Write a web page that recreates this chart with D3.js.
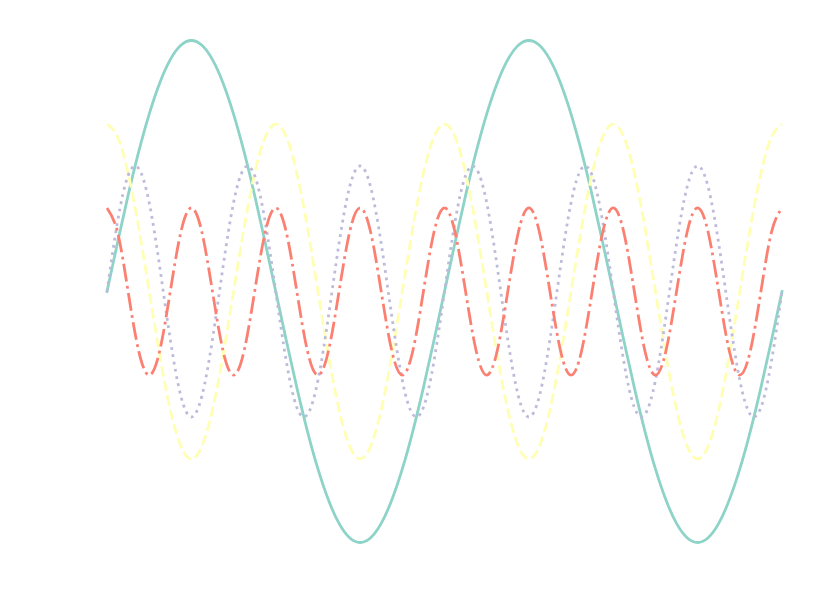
<!DOCTYPE html>
<html>
<head>
<meta charset="utf-8">
<script src="https://cdn.jsdelivr.net/npm/d3@7"></script>
<style>
html,body{margin:0;padding:0;background:#fff;}
svg{display:block;}
</style>
</head>
<body>
<svg id="chart" width="831" height="611"></svg>
<script>
// x positions in units of pi/16, from 0 to 4*pi
const steps = d3.range(0, 65);

const teal = [0,0.195,0.383,0.556,0.707,0.831,0.924,0.981,1,0.981,0.924,0.831,0.707,0.556,0.383,0.195,
  0,-0.195,-0.383,-0.556,-0.707,-0.831,-0.924,-0.981,-1,-0.981,-0.924,-0.831,-0.707,-0.556,-0.383,-0.195,
  0,0.195,0.383,0.556,0.707,0.831,0.924,0.981,1,0.981,0.924,0.831,0.707,0.556,0.383,0.195,
  0,-0.195,-0.383,-0.556,-0.707,-0.831,-0.924,-0.981,-1,-0.981,-0.924,-0.831,-0.707,-0.556,-0.383,-0.195,0];

const yellow = [0.667,0.616,0.471,0.255,0,-0.255,-0.471,-0.616,-0.667,-0.616,-0.471,-0.255,0,0.255,0.471,0.616,
  0.667,0.616,0.471,0.255,0,-0.255,-0.471,-0.616,-0.667,-0.616,-0.471,-0.255,0,0.255,0.471,0.616,
  0.667,0.616,0.471,0.255,0,-0.255,-0.471,-0.616,-0.667,-0.616,-0.471,-0.255,0,0.255,0.471,0.616,
  0.667,0.616,0.471,0.255,0,-0.255,-0.471,-0.616,-0.667,-0.616,-0.471,-0.255,0,0.255,0.471,0.616,0.667];

const purple = [0,0.278,0.462,0.490,0.354,0.098,-0.191,-0.416,-0.5,-0.416,-0.191,0.098,0.354,0.490,0.462,0.278,
  0,-0.278,-0.462,-0.490,-0.354,-0.098,0.191,0.416,0.5,0.416,0.191,-0.098,-0.354,-0.490,-0.462,-0.278,
  0,0.278,0.462,0.490,0.354,0.098,-0.191,-0.416,-0.5,-0.416,-0.191,0.098,0.354,0.490,0.462,0.278,
  0,-0.278,-0.462,-0.490,-0.354,-0.098,0.191,0.416,0.5,0.416,0.191,-0.098,-0.354,-0.490,-0.462,-0.278,0];

const red = [0.333,0.236,0,-0.236,-0.333,-0.236,0,0.236,
  0.333,0.236,0,-0.236,-0.333,-0.236,0,0.236,
  0.333,0.236,0,-0.236,-0.333,-0.236,0,0.236,
  0.333,0.236,0,-0.236,-0.333,-0.236,0,0.236,
  0.333,0.236,0,-0.236,-0.333,-0.236,0,0.236,
  0.333,0.236,0,-0.236,-0.333,-0.236,0,0.236,
  0.333,0.236,0,-0.236,-0.333,-0.236,0,0.236,
  0.333,0.236,0,-0.236,-0.333,-0.236,0,0.236,0.333];

const seriesList = [
  {name: "teal", values: teal, color: "#8dd3c7", dash: null},
  {name: "yellow", values: yellow, color: "#ffffb3", dash: "10.3,4.45"},
  {name: "purple", values: purple, color: "#bebada", dash: "2.78,4.58"},
  {name: "red", values: red, color: "#fb8072", dash: "17.8,4.45,2.78,4.45"}
];

const svg = d3.select("#chart");
const x = d3.scaleLinear().domain([0, 64]).range([107, 782]);
const y = d3.scaleLinear().domain([-1, 1]).range([542.5, 40.5]);

const line = d3.line()
  .x((d, i) => x(steps[i]))
  .y(d => y(d))
  .curve(d3.curveNatural);

seriesList.forEach(s => {
  const p = svg.append("path")
    .datum(s.values)
    .attr("d", line)
    .attr("fill", "none")
    .attr("stroke", s.color)
    .attr("stroke-width", 2.78)
    .attr("stroke-linecap", s.dash ? "butt" : "square");
  if (s.dash) p.attr("stroke-dasharray", s.dash);
});
</script>
</body>
</html>
